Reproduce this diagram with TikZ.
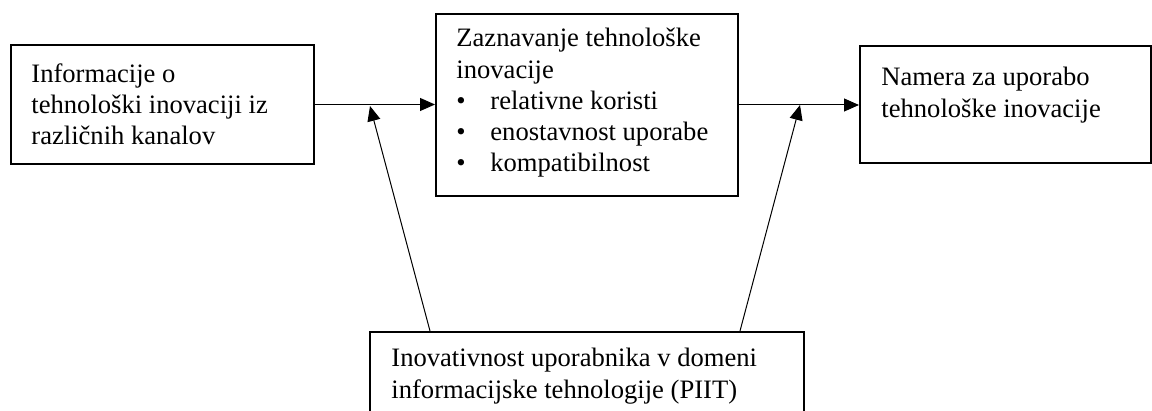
\documentclass[tikz,border=0pt]{standalone}
\usepackage{fontspec}
\setmainfont{Liberation Serif}
\usetikzlibrary{arrows.meta,positioning,calc}

\begin{document}
\begin{tikzpicture}[x=0.5pt, y=-0.5pt,
    box/.style={draw, line width=1pt, anchor=north west, inner sep=0pt},
    txt/.style={anchor=north west, inner sep=0pt, align=left,
      font=\fontsize{13.3pt}{15.6pt}\selectfont},
    arr/.style={-{Triangle[length=7.5pt,width=6.5pt]}, line width=0.5pt}]
  \useasboundingbox (0,0) rectangle (1152,411);
  % boxes
  \node[box, minimum width=151.5pt, minimum height=59.5pt] (info) at (10,44) {};
  \node[box, minimum width=151pt, minimum height=91pt] (zaz) at (435,13) {};
  \node[box, minimum width=145.5pt, minimum height=58.5pt] (nam) at (859,45) {};
  \node[box, minimum width=217pt, minimum height=45pt] (piit) at (369,331) {};
  % texts
  \node[txt] (infotext) at (31,63)
    {Informacije o\\tehnološki inovaciji iz\\različnih kanalov};
  \node[txt] (zaztext) at (456,28)
    {Zaznavanje tehnološke\\inovacije\\
     \makebox[17pt][l]{\textbullet}relativne koristi\\
     \makebox[17pt][l]{\textbullet}enostavnost uporabe\\
     \makebox[17pt][l]{\textbullet}kompatibilnost};
  \node[txt] (namtext) at (881,67)
    {Namera za uporabo\\tehnološke inovacije};
  \node[txt] (piittext) at (391,348)
    {Inovativnost uporabnika v domeni\\informacijske tehnologije (PIIT)};
  % arrows
  \draw[arr] (info.east) -- (info.east -| zaz.west);
  \draw[arr] (zaz.east) -- (zaz.east -| nam.west);
  \coordinate (hitL) at (370,106);
  \coordinate (hitR) at (800,105);
  \draw[arr] ($(piit.north west)+(61,0)$) -- (hitL);
  \draw[arr] ($(piit.north east)+(-65,0)$) -- (hitR);
\end{tikzpicture}
\end{document}
